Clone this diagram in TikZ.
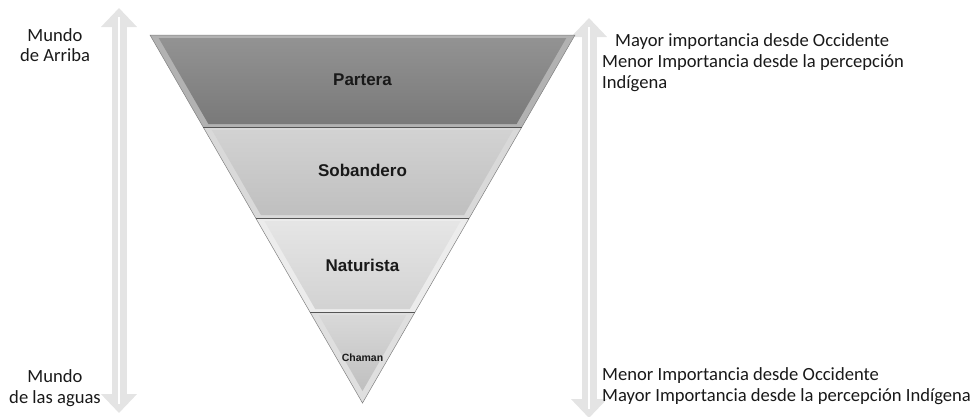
\documentclass[tikz,border=0pt]{standalone}
\usepackage{fontspec}
\setmainfont{Carlito}
\newfontfamily\bandfont{Liberation Sans}
\usetikzlibrary{arrows.meta}
\definecolor{arrowgray}{HTML}{E4E4E4}
\definecolor{sepline}{HTML}{555555}

\begin{document}
\begin{tikzpicture}[x=1pt, y=-1pt,
        side/.style={font=\fontsize{18.6}{20.5}\selectfont, inner sep=0pt, text=black!90},
        level/.style={font=\bandfont\bfseries\fontsize{17}{19}\selectfont, text=black!90},
        updown/.style={draw=arrowgray, line width=15pt, {Triangle[width=35pt,length=19pt]}-{Triangle[width=35pt,length=19pt]}},
        stripe/.style={draw=white, line width=2pt, shorten <=9pt, shorten >=9pt}]
    \useasboundingbox (0,0) rectangle (975,416);

    % arrows on both sides
    \coordinate (lefttop) at (119,8);
    \coordinate (leftbot) at (119,413);
    \coordinate (righttop) at (589,18);
    \coordinate (rightbot) at (589,418);
    \draw[updown] (lefttop) -- (leftbot);
    \draw[stripe] (lefttop) -- (leftbot);
    \draw[updown] (righttop) -- (rightbot);
    \draw[stripe] (righttop) -- (rightbot);

    % inverted pyramid, band by band (outer bevel, then inner face)
    \fill[gray!60] (150,35) -- (575,35) -- (521.9,127) -- (203.1,127) -- cycle;
    \shade[top color=gray!85!white, bottom color=gray!95!black] (158.7,38) -- (566.3,38) -- (516.6,124) -- (208.4,124) -- cycle;
    \fill[gray!30] (203.1,127) -- (521.9,127) -- (469.3,218) -- (255.7,218) -- cycle;
    \shade[top color=gray!35, bottom color=gray!50] (211.9,130) -- (513.1,130) -- (464.1,215) -- (260.9,215) -- cycle;
    \fill[gray!15] (255.7,218) -- (469.3,218) -- (415,312) -- (310,312) -- cycle;
    \shade[top color=gray!20, bottom color=gray!35] (264.4,221) -- (460.6,221) -- (409.8,309) -- (315.2,309) -- cycle;
    \fill[gray!25] (310,312) -- (415,312) -- (362.5,403) -- cycle;
    \shade[top color=gray!30, bottom color=gray!50] (318.7,315) -- (406.3,315) -- (362.5,391) -- cycle;
    \draw[gray, line width=0.5pt] (150,35) -- (575,35) -- (362.5,403) -- cycle;
    \draw[sepline, line width=1pt] (203.1,127) -- (521.9,127);
    \draw[sepline, line width=1pt] (255.7,218) -- (469.3,218);
    \draw[sepline, line width=1pt] (310,312) -- (415,312);

    \node[level] (partera) at (362.5,80) {Partera};
    \node[level] (sobandero) at (362.5,170) {Sobandero};
    \node[level] (naturista) at (362.5,265) {Naturista};
    \node[level, font=\bandfont\bfseries\fontsize{10.5}{12}\selectfont] (chaman) at (362.5,358) {Chaman};

    % side texts
    \node[side, align=center] (arriba) at (55,45) {Mundo\\de Arriba};
    \node[side, align=center] (aguas) at (55,388) {Mundo\\de las aguas};
    \node[side, anchor=west] (occmayor) at (615,42) {Mayor importancia desde Occidente};
    \node[side, anchor=west, align=left] (indmenor) at (602,73) {Menor Importancia desde la percepción\\Indígena};
    \node[side, anchor=west, align=left] (occmenor) at (602,386) {Menor Importancia desde Occidente\\Mayor Importancia desde la percepción Indígena};
\end{tikzpicture}
\end{document}
